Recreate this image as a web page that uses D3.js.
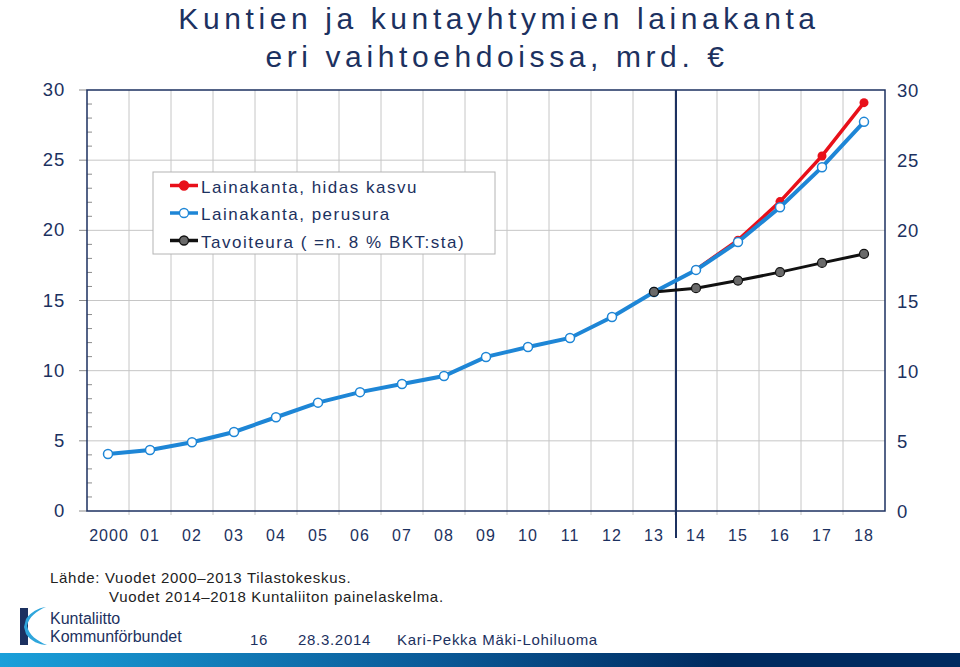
<!DOCTYPE html>
<html>
<head>
<meta charset="utf-8">
<script src="https://cdn.jsdelivr.net/npm/d3@7"></script>
<style>
  body { margin: 0; background: #fff; }
  svg { display: block; font-family: "Liberation Sans", Arial, sans-serif; }
</style>
</head>
<body>
<svg width="960" height="667"></svg>
<script>
const width = 960;
const height = 667;

// Data
const years = ["2000", "01", "02", "03", "04", "05", "06", "07", "08", "09",
  "10", "11", "12", "13", "14", "15", "16", "17", "18"];
const perusura = [4.06, 4.35, 4.9, 5.63, 6.68, 7.72, 8.47, 9.05, 9.62, 10.98,
  11.69, 12.33, 13.83, 15.61, 17.18, 19.17, 21.65, 24.5, 27.73];
const hidasYears = ["14", "15", "16", "17", "18"];
const hidas = [17.2, 19.3, 22.05, 25.3, 29.1];
const tavoiteYears = ["13", "14", "15", "16", "17", "18"];
const tavoite = [15.61, 15.88, 16.42, 17.02, 17.68, 18.32];
const yTicks = [0, 5, 10, 15, 20, 25, 30];

const navy = "#1c3160";
const svg = d3.select("svg");

// Scales
const x = d3.scaleBand().domain(years).range([87, 885]).padding(0);
const y = d3.scaleLinear().domain([0, 30]).range([511, 90]);
const cx = d => x(d) + x.bandwidth() / 2;

// Title
svg.append("text")
  .attr("x", 499).attr("y", 29)
  .attr("text-anchor", "middle")
  .attr("font-size", 30).attr("letter-spacing", 4.6)
  .attr("fill", navy)
  .text("Kuntien ja kuntayhtymien lainakanta");
svg.append("text")
  .attr("x", 497).attr("y", 67)
  .attr("text-anchor", "middle")
  .attr("font-size", 30).attr("letter-spacing", 4.6)
  .attr("fill", navy)
  .text("eri vaihtoehdoissa, mrd. €");

// Grid
const grid = svg.append("g");
grid.selectAll("line.h")
  .data(yTicks.slice(1, -1))
  .enter().append("line")
  .attr("x1", 87).attr("x2", 885)
  .attr("y1", d => y(d)).attr("y2", d => y(d))
  .attr("stroke", "#c6c6c6").attr("stroke-width", 1);
grid.selectAll("line.v")
  .data(years.slice(1))
  .enter().append("line")
  .attr("x1", d => x(d)).attr("x2", d => x(d))
  .attr("y1", 90).attr("y2", 515)
  .attr("stroke", "#c6c6c6").attr("stroke-width", 1);

// Left axis: major ticks outward, minor ticks inward
const minor = d3.range(0, 31).filter(v => v % 5 !== 0);
svg.append("g").selectAll("line")
  .data(minor)
  .enter().append("line")
  .attr("x1", 87).attr("x2", 92)
  .attr("y1", d => y(d)).attr("y2", d => y(d))
  .attr("stroke", "#8c8c8c");
svg.append("g").selectAll("line")
  .data(yTicks)
  .enter().append("line")
  .attr("x1", 79).attr("x2", 87)
  .attr("y1", d => y(d)).attr("y2", d => y(d))
  .attr("stroke", "#8c8c8c");

// Plot frame
svg.append("rect")
  .attr("x", 87).attr("y", 90)
  .attr("width", 798).attr("height", 421)
  .attr("fill", "none")
  .attr("stroke", navy).attr("stroke-width", 1.5);

// Divider between statistics and forecast
svg.append("line")
  .attr("x1", x("14") + 1).attr("x2", x("14") + 1)
  .attr("y1", 90).attr("y2", 538)
  .attr("stroke", navy).attr("stroke-width", 2);

// Y labels, both sides
const yl = svg.append("g")
  .attr("font-size", 18.5).attr("fill", navy);
yl.selectAll("text.l")
  .data(yTicks)
  .enter().append("text")
  .attr("x", 65).attr("y", d => y(d) + 6)
  .attr("text-anchor", "end")
  .attr("letter-spacing", 0.8)
  .text(d => d);
yl.selectAll("text.r")
  .data(yTicks)
  .enter().append("text")
  .attr("x", 897).attr("y", d => y(d) + 7)
  .attr("letter-spacing", 0.8)
  .text(d => d);

// X labels
svg.append("g").selectAll("text")
  .data(years)
  .enter().append("text")
  .attr("x", d => cx(d) + (d === "2000" ? 1 : 0))
  .attr("y", 541)
  .attr("text-anchor", "middle")
  .attr("font-size", 16).attr("letter-spacing", 1)
  .attr("fill", navy)
  .text(d => d);

// Lines
const line = d3.line().x(d => cx(d[0])).y(d => y(d[1]));
const redPts = hidasYears.map((k, i) => [k, hidas[i]]);
const bluePts = years.map((k, i) => [k, perusura[i]]);
const blackPts = tavoiteYears.map((k, i) => [k, tavoite[i]]);

svg.append("path").datum(redPts)
  .attr("d", line).attr("fill", "none")
  .attr("stroke", "#e8101a").attr("stroke-width", 3.5);
svg.append("g").selectAll("circle")
  .data(redPts).enter().append("circle")
  .attr("cx", d => cx(d[0])).attr("cy", d => y(d[1]))
  .attr("r", 4.5).attr("fill", "#e8101a");

svg.append("path").datum(bluePts)
  .attr("d", line).attr("fill", "none")
  .attr("stroke", "#1e86d6").attr("stroke-width", 4);
svg.append("g").selectAll("circle")
  .data(bluePts).enter().append("circle")
  .attr("cx", d => cx(d[0])).attr("cy", d => y(d[1]))
  .attr("r", 4.5).attr("fill", "#fff")
  .attr("stroke", "#1e86d6").attr("stroke-width", 1.5);

svg.append("path").datum(blackPts)
  .attr("d", line).attr("fill", "none")
  .attr("stroke", "#111").attr("stroke-width", 3);
svg.append("g").selectAll("circle")
  .data(blackPts).enter().append("circle")
  .attr("cx", d => cx(d[0])).attr("cy", d => y(d[1]))
  .attr("r", 4.5).attr("fill", "#6a6a6a")
  .attr("stroke", "#111").attr("stroke-width", 1.2);

// Legend
const legendItems = [
  { label: "Lainakanta, hidas kasvu", color: "#e8101a", fill: "#e8101a" },
  { label: "Lainakanta, perusura", color: "#1e86d6", fill: "#fff" },
  { label: "Tavoiteura ( =n. 8 % BKT:sta)", color: "#111", fill: "#6a6a6a" }
];
const legend = svg.append("g");
legend.append("rect")
  .attr("x", 153).attr("y", 172)
  .attr("width", 342).attr("height", 82)
  .attr("fill", "#fff").attr("stroke", "#b4b4b4");
const li = legend.selectAll("g.item")
  .data(legendItems)
  .enter().append("g")
  .attr("transform", (d, i) => `translate(0,${185.5 + i * 27.5})`);
li.append("line")
  .attr("x1", 170).attr("x2", 198)
  .attr("stroke", d => d.color).attr("stroke-width", 3.5);
li.append("circle")
  .attr("cx", 184).attr("r", 4.5)
  .attr("fill", d => d.fill)
  .attr("stroke", d => d.color).attr("stroke-width", 1.3);
li.append("text")
  .attr("x", 201).attr("y", 7)
  .attr("font-size", 17).attr("letter-spacing", 1.5)
  .attr("fill", navy)
  .text(d => d.label);

// Source
const src = svg.append("g").attr("font-size", 15).attr("fill", "#222")
  .attr("letter-spacing", 0.7);
src.append("text").attr("x", 50).attr("y", 583)
  .text("Lähde: Vuodet 2000–2013 Tilastokeskus.");
src.append("text").attr("x", 109).attr("y", 602)
  .text("Vuodet 2014–2018 Kuntaliiton painelaskelma.");

// Footer logo
const logo = svg.append("g");
logo.append("rect")
  .attr("x", 20).attr("y", 608).attr("width", 8).attr("height", 37)
  .attr("fill", "#1c3160");
logo.append("path")
  .attr("d", "M46,607 C36,611 29,617 27,626 C29,635 37,641 47,645 C39,645 31,641 26,634 L24,627 L26,619 C31,612 38,608 46,607 Z")
  .attr("fill", "#2fa6dc");
logo.append("text").attr("x", 50).attr("y", 624)
  .attr("font-size", 16).attr("fill", "#1c3160")
  .text("Kuntaliitto");
logo.append("text").attr("x", 50).attr("y", 642)
  .attr("font-size", 16).attr("fill", "#1c3160")
  .text("Kommunförbundet");

const foot = svg.append("g").attr("font-size", 15).attr("fill", "#1c3160")
  .attr("letter-spacing", 0.7);
foot.append("text").attr("x", 250).attr("y", 645).text("16");
foot.append("text").attr("x", 298).attr("y", 645).text("28.3.2014");
foot.append("text").attr("x", 397).attr("y", 645).text("Kari-Pekka Mäki-Lohiluoma");

// Bottom gradient bar
const grad = svg.append("defs").append("linearGradient").attr("id", "bar");
grad.append("stop").attr("offset", "0%").attr("stop-color", "#1aa0da");
grad.append("stop").attr("offset", "45%").attr("stop-color", "#0a5a98");
grad.append("stop").attr("offset", "75%").attr("stop-color", "#002b5f");
grad.append("stop").attr("offset", "100%").attr("stop-color", "#002b5f");
svg.append("rect")
  .attr("x", 0).attr("y", 653).attr("width", width).attr("height", 14)
  .attr("fill", "url(#bar)");
</script>
</body>
</html>
